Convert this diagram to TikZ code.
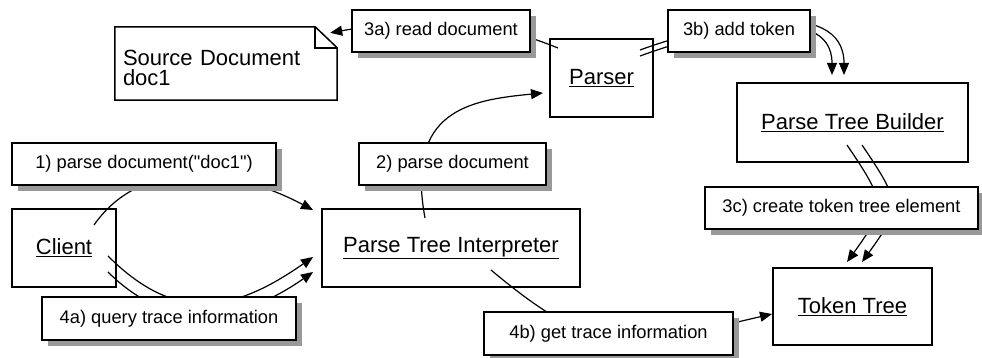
\documentclass[tikz,border=0pt]{standalone}
\usepackage{fontspec}
\setmainfont{Liberation Sans}
\usetikzlibrary{calc}
\usetikzlibrary{arrows.meta}
\usetikzlibrary{shadows}
\newcommand{\objfont}{\fontsize{22}{20}\selectfont}
\newcommand{\msgfont}{\fontsize{18.3}{22}\selectfont}
\tikzset{
	obj/.style={
		draw,
		rectangle,
		line width=1.5pt,
		inner sep=0pt,
		minimum height=78,
		font=\objfont,
	},
	doc/.style={
		rectangle,
		inner sep=0pt,
		align=left,
		font=\objfont,
	},
	msg/.style={
		draw,
		rectangle,
		fill=white,
		line width=1.5pt,
		inner sep=0pt,
		minimum height=42,
		font=\msgfont,
		drop shadow={shadow xshift=6pt,shadow yshift=-6pt,fill=black!40,opacity=1},
	},
	link/.style={line width=1.2pt},
	call/.style={
		link,
		-{Triangle[length=12pt,width=10pt]}
	},
}
\begin{document}
\begin{tikzpicture}[x=1pt,y=-1pt]
		\useasboundingbox (0,0) rectangle (982,358);

		\node[obj, minimum width=104] 		(client) at (64,248) {\underline{Client}};
		\node[obj, minimum width=258] 		(pti) at (451,248) {\underline{Parse Tree Interpreter}};
		\node[obj, minimum width=103] 		(parser) at (601.5,78) {\underline{Parser}};
		\node[obj, minimum width=231, minimum height=79] 	(builder) at (852.5,122.5) {\underline{Parse Tree Builder}};
		\node[obj, minimum width=159, minimum height=77] 	(token) at (852.5,306.5) {\underline{Token Tree}};

		% text sits a little below the middle of the note
		\node[doc, minimum width=222, minimum height=73, text width=206] (note) at (226,67.5) {Source Document\\doc1};
		\draw[line width=1.5pt] ([yshift=4pt]note.north west) -- ([xshift=-22pt,yshift=4pt]note.north east)
			-- ([yshift=-17pt]note.north east) -- ([yshift=4pt]note.south east) -- ([yshift=4pt]note.south west) -- cycle;
		\draw[line width=1.5pt] ([xshift=-22pt,yshift=4pt]note.north east) |- ([yshift=-17pt]note.north east);

%%%

		\draw[call] 	($(client)+(30,-23)$) to[out=55,in=152] ($(pti)+(-138,-38)$);
		\draw[call] 	($(client)+(44,8)$) to[out=-45,in=-145,looseness=1.2] ($(pti)+(-138,9)$);
		\draw[call] 	($(client)+(44,24)$) to[out=-45,in=-145,looseness=1.1] ($(pti)+(-138,24)$);

		\draw[call] 	($(pti)+(-26,-30)$) .. controls +(-20,-108) and +(-73,7) .. ($(parser)+(-58.5,15)$);
		\draw[call] 	($(parser)+(-43.5,-30)$) to[out=158,in=10] ($(note.north east)+(-7,2)$);

		\draw[call] 	($(parser)+(38.5,-28)$) to[out=20,in=90] ($(builder)+(-8.5,-47.5)$);
		\draw[call] 	($(parser)+(38.5,-22)$) to[out=20,in=90] ($(builder)+(-20.5,-47.5)$);

		\draw[call] 	($(builder)+(-5.5,22.5)$) to[out=-56,in=54,looseness=1.5] ($(token)+(-5.5,-44.5)$);
		\draw[call] 	($(builder)+(9.5,22.5)$) to[out=-56,in=54,looseness=1.5] ($(token)+(9.5,-44.5)$);

		\draw[call] 	($(pti)+(40,22)$) to[out=-40,in=-167,looseness=1.3] ($(token)+(-80.5,7.5)$);

%%%

		\node[msg, minimum width=264] 	(parsedoc) at (144,164) {1) parse document(\textquotedbl doc1\textquotedbl)};
		\node[msg, minimum width=187] 	(forward) at (452.5,164) {2) parse document};
		\node[msg, minimum width=178] 	(read) at (441,31) {3a) read document};
		\node[msg, minimum width=142] 	(add) at (739,31) {3b) add token};
		\node[msg, minimum width=273] 	(create) at (841.5,208) {3c) create token tree element};
		\node[msg, minimum width=254, minimum height=43] 	(query) at (169,318.5) {4a) query trace information};
		\node[msg, minimum width=249, minimum height=43] 	(gettrace) at (608.5,333.5) {4b) get trace information};

	\end{tikzpicture}
\end{document}
